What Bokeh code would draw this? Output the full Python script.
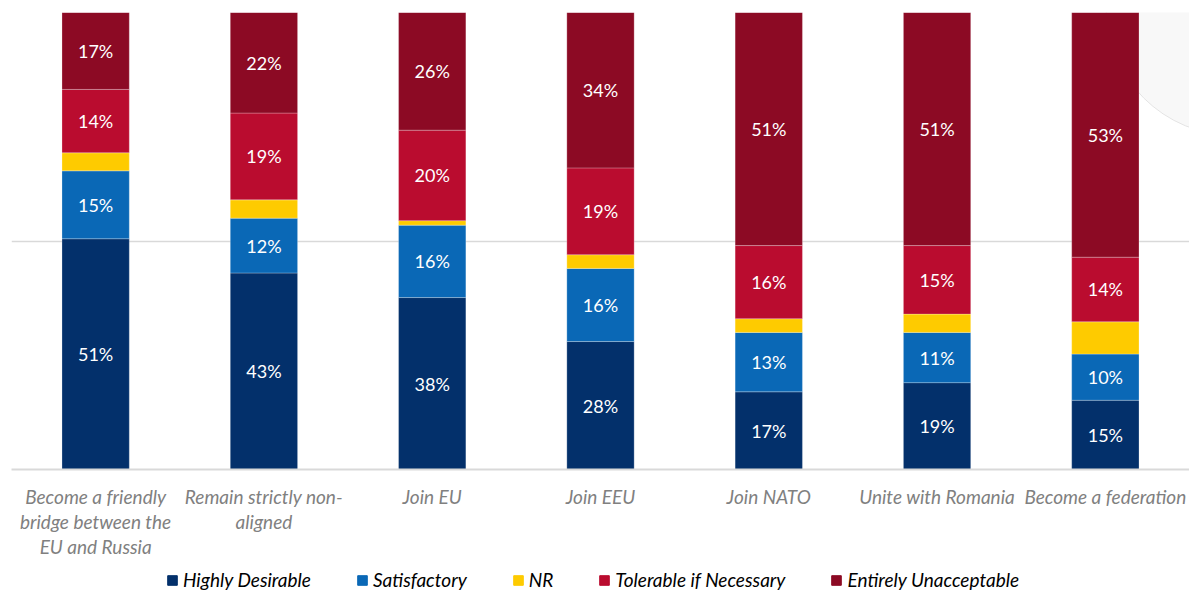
from bokeh.plotting import figure
from bokeh.layouts import column
from bokeh.models import ColumnDataSource, Legend, LegendItem, FactorRange, Range1d, FixedTicker
from bokeh.core.properties import value
from bokeh.embed import file_html
from bokeh.resources import INLINE

tick_labels = ["Become a friendly\nbridge between the\nEU and Russia",
               "Remain strictly non-\naligned",
               "Join EU", "Join EEU", "Join NATO",
               "Unite with Romania", "Become a federation"]
series = ["Highly Desirable", "Satisfactory", "NR", "Tolerable if Necessary", "Entirely Unacceptable"]
highly = [51, 43, 38, 28, 17, 19, 15]
satisf = [15, 12, 16, 16, 13, 11, 10]
nr = [4, 4, 1, 3, 3, 4, 7]
toler = [14, 19, 20, 19, 16, 15, 14]
unacc = [17, 22, 26, 34, 51, 51, 53]
colors = ["#03306B", "#0A68B6", "#FECB00", "#BA0C2F", "#8C0A24"]

raw = [highly, satisf, nr, toler, unacc]
totals = [sum(col) for col in zip(*raw)]
keys = ["s0", "s1", "s2", "s3", "s4"]
data = {"x": tick_labels}
for k, vals in zip(keys, raw):
    data[k] = [v / t * 100 for v, t in zip(vals, totals)]
src = ColumnDataSource(data)

p = figure(x_range=FactorRange(*tick_labels), y_range=Range1d(0, 100),
           width=1189, height=568,
           output_backend="svg", toolbar_location=None,
           y_axis_location=None, min_border_top=12, min_border_left=11,
           min_border_right=0, min_border_bottom=99)
p.outline_line_color = None

# faint decorative disc behind the chart (slide background)
p.scatter(x=[7.267], y=[101.2], size=257, marker="circle",
          fill_color="#f8f8f8", line_color="#e4e4e4", line_width=1, level="underlay")

rs = p.vbar_stack(keys, x="x", width=0.4, source=src, color=colors,
                  line_color="white", line_alpha=0.25, line_width=1)

# value labels
lx, ly, lt = [], [], []
for i, cat in enumerate(tick_labels):
    base = 0.0
    for j, k in enumerate(keys):
        h = data[k][i]
        if j != 2:
            lx.append(cat)
            ly.append(base + h / 2)
            lt.append(f"{raw[j][i]}%")
        base += h
lsrc = ColumnDataSource(dict(x=lx, y=ly, t=lt))
p.text(x="x", y="y", text="t", source=lsrc, text_color="white",
       text_align="center", text_baseline="middle",
       text_font=value("Lato"), text_font_size="18px")

p.xgrid.grid_line_color = None
p.ygrid.ticker = FixedTicker(ticks=[0, 50, 100])
p.ygrid.grid_line_color = "#d9d9d9"
p.ygrid.grid_line_width = 1.5

ax = p.xaxis[0]
ax.axis_line_color = "#d9d9d9"
ax.axis_line_width = 2
ax.major_tick_line_color = None
ax.minor_tick_line_color = None
ax.major_label_standoff = 9
ax.major_label_text_font = "Lato"
ax.major_label_text_font_style = "italic"
ax.major_label_text_font_size = "19px"
ax.major_label_text_color = "#808080"
ax.major_label_text_line_height = 1.1

# legend in its own strip below the chart
lf = figure(width=1189, height=23, output_backend="svg", toolbar_location=None,
            x_axis_location=None, y_axis_location=None,
            x_range=Range1d(0, 1), y_range=Range1d(0, 1),
            min_border=0)
lf.outline_line_color = None
lf.xgrid.visible = False
lf.ygrid.visible = False
items = []
for s, c in zip(series, colors):
    # zero-height placeholder bar, only used to give the legend its swatch
    ph = ColumnDataSource(dict(x=[0.0], top=[0.0]))
    r = lf.vbar(x="x", top="top", width=0.0, source=ph, fill_color=c, line_color=c)
    items.append(LegendItem(label=s, renderers=[r]))
legend = Legend(items=items, orientation="horizontal", location=(155, 0),
                label_text_font="Lato", label_text_font_style="italic",
                label_text_font_size="19px", label_text_color="black",
                glyph_width=12, glyph_height=12, label_standoff=5,
                spacing=45, padding=0, margin=0, border_line_color=None,
                background_fill_alpha=0)
lf.add_layout(legend, "center")

layout = column(p, lf, spacing=0)
open("out.html", "w").write(file_html(layout, INLINE))
